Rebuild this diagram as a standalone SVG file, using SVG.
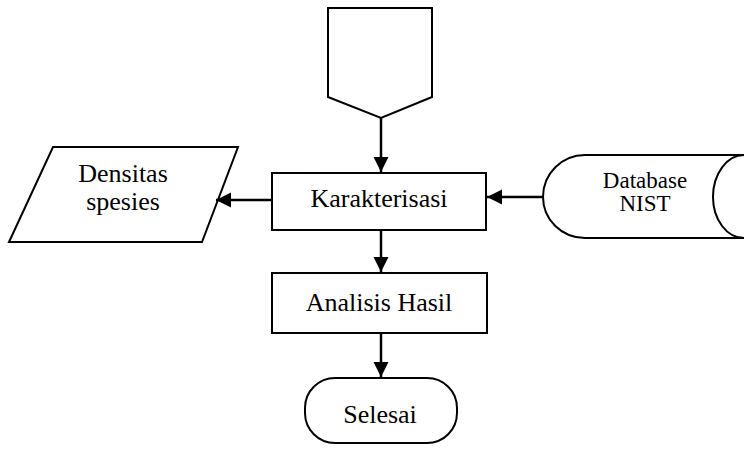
<svg xmlns="http://www.w3.org/2000/svg" width="744" height="451" viewBox="0 0 744 451">
<defs>
<marker id="ah" markerWidth="16" markerHeight="16" refX="15" refY="7.5" orient="auto" markerUnits="userSpaceOnUse">
<path d="M0,0 L15,7.5 L0,15 Z" fill="#000"/>
</marker>
<style>
.s{fill:#fff;stroke:#000;stroke-width:2}
.t{font-family:"Liberation Serif","Times New Roman",serif;font-size:26px;fill:#000;text-anchor:middle}
.ts{font-size:23px}
.c{stroke:#000;stroke-width:2.5;fill:none;marker-end:url(#ah)}
</style>
</defs>
<rect width="744" height="451" fill="#fff"/>
<g id="offpage">
<path class="s" d="M328,8 L432,8 L432,97 L381,118 L328,97 Z"/>
</g>
<g id="karakterisasi">
<rect class="s" x="272" y="173" width="214" height="57"/>
<text class="t" x="379" y="207">Karakterisasi</text>
</g>
<g id="densitas">
<path class="s" d="M53,147 L238,147 L202,242 L9,242 Z"/>
<text class="t" x="123" y="182">Densitas</text>
<text class="t" x="123" y="210">spesies</text>
</g>
<g id="database">
<path class="s" d="M744,155 L585,155 A42,42 0 0 0 543,197 A42,41 0 0 0 585,238 L744,238"/>
<path class="s" d="M744,155 A31,42 0 0 0 713,197 A31,41 0 0 0 744,238"/>
<text class="t ts" x="645" y="188">Database</text>
<text class="t ts" x="645" y="211">NIST</text>
</g>
<g id="analisis">
<rect class="s" x="272" y="273" width="215" height="60"/>
<text class="t" x="379" y="311">Analisis Hasil</text>
</g>
<g id="selesai">
<rect class="s" x="305" y="378" width="152" height="65" rx="30" ry="30"/>
<text class="t" x="380" y="423">Selesai</text>
</g>
<g id="connectors">
<line class="c" x1="381" y1="118" x2="381" y2="172"/>
<line class="c" x1="272" y1="200" x2="216" y2="200"/>
<line class="c" x1="543" y1="197" x2="487" y2="197"/>
<line class="c" x1="381" y1="230" x2="381" y2="272"/>
<line class="c" x1="381" y1="333" x2="381" y2="377"/>
</g>
</svg>
